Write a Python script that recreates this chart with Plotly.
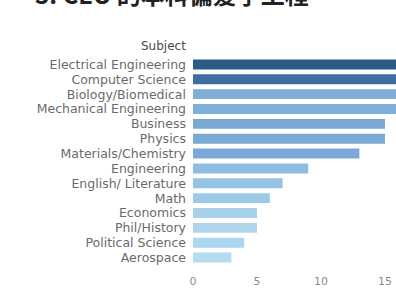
import plotly.graph_objects as go

subjects = ["Electrical Engineering", "Computer Science", "Biology/Biomedical",
            "Mechanical Engineering", "Business", "Physics", "Materials/Chemistry",
            "Engineering", "English/ Literature", "Math", "Economics", "Phil/History",
            "Political Science", "Aerospace"]
counts = [18, 17, 16, 16, 15, 15, 13, 9, 7, 6, 5, 5, 4, 3]
colors = ["#2c5a87", "#3e6e9f", "#80aed6", "#7eb0d8", "#79a9d3", "#7aaad4", "#7ba8d9",
          "#8fbde2", "#94c2e5", "#9cc9e7", "#a8d1ec", "#afd5ed", "#aad6ef", "#b4dcf1"]
x_ticks = [0, 5, 10, 15]
title_text = "3. CEO 的本科偏爱学工程"

fig = go.Figure(go.Bar(
    x=counts, y=subjects, orientation="h",
    marker=dict(color=colors, line=dict(width=0)),
    hoverinfo="x+y",
))

W, H = 396, 302
ml, mr, mt, mb = 193, 0, 56.5, 37

fig.update_layout(
    width=W, height=H,
    margin=dict(l=ml, r=mr, t=mt, b=mb, pad=0, autoexpand=False),
    paper_bgcolor="white", plot_bgcolor="white",
    bargap=0.33,
    showlegend=False,
    font=dict(family="DejaVu Sans", size=12, color="#666"),
    xaxis=dict(range=[0, 15.86], tickmode="array", tickvals=x_ticks, showgrid=False,
               zeroline=False, showline=False, ticks="",
               tickfont=dict(size=11, color="#8a8a8a"),
               ticklabelstandoff=8, automargin=False),
    yaxis=dict(autorange="reversed", tickmode="array", tickvals=subjects, ticktext=subjects,
               showgrid=False, zeroline=False, showline=False,
               ticks="", tickfont=dict(size=12.5, color="#6a6a6a"), ticklabelstandoff=6,
               automargin=False),
    annotations=[
        dict(text="Subject", xref="paper", yref="paper", x=0, y=1, xanchor="right",
             yanchor="bottom", xshift=-5, yshift=2.5, showarrow=False,
             font=dict(family="DejaVu Sans", size=12, color="#4a4a4a")),
        dict(text="<b>" + title_text + "</b>", xref="paper", yref="paper", x=-ml / (W - ml - mr),
             y=1, xanchor="left", yanchor="bottom", xshift=33, yshift=43.5, showarrow=False,
             font=dict(family="Noto Sans CJK SC", size=24, color="#222")),
    ],
)

fig.write_html(
    "out.html",
    config={"displayModeBar": False},
    post_script="document.body.style.margin='0';document.body.style.overflow='hidden';"
                "document.documentElement.style.overflow='hidden';",
)
